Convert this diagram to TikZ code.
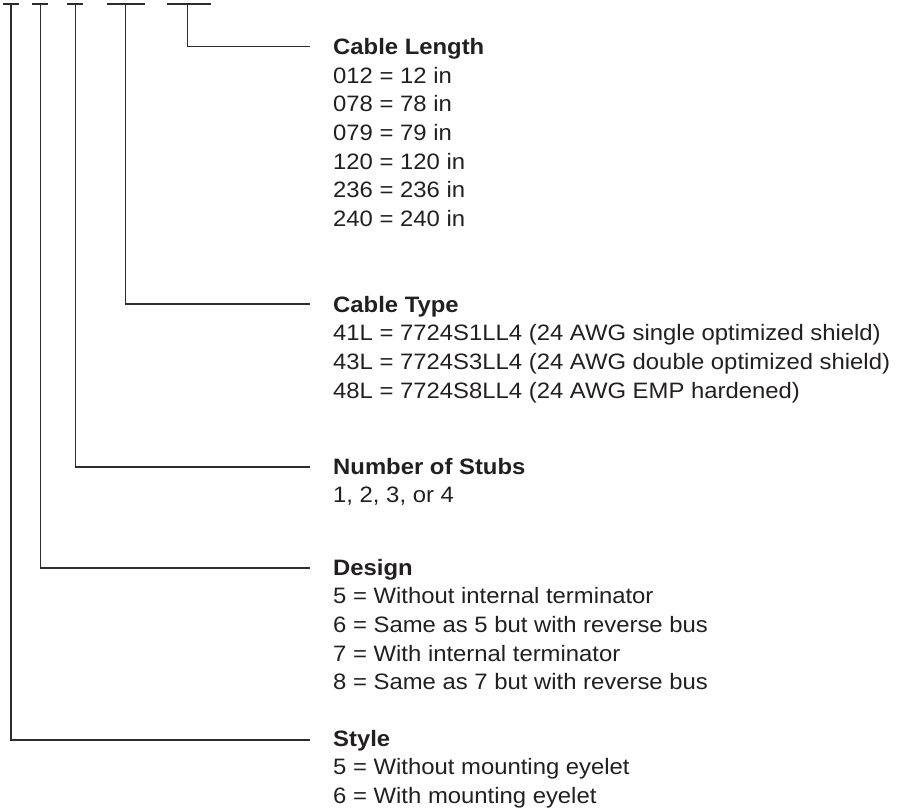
\documentclass[tikz,border=0pt]{standalone}
\usepackage{fontspec}
\setmainfont{Liberation Sans}[FakeStretch=1.07]
\definecolor{ink}{RGB}{35,31,32}
\definecolor{rule}{RGB}{45,45,45}
\newcommand{\lines}[1]{\begin{tabular}[t]{@{}l@{}}#1\end{tabular}}
\begin{document}
\begin{tikzpicture}[x=1pt,y=-1pt,
  leader/.style={draw=rule,line width=1.2pt},
  txt/.style={anchor=base west,inner sep=0pt,text=ink,
    font=\fontsize{22.3pt}{28.7pt}\selectfont},
  head/.style={txt,font=\fontsize{22.3pt}{28.7pt}\selectfont\bfseries}]
\useasboundingbox (0,0) rectangle (897,809);
% top bars
\coordinate (b1a) at (3.3,4); \coordinate (b1b) at (19.3,4); \coordinate (v1) at (11,4);
\coordinate (b2a) at (32.3,4); \coordinate (b2b) at (48.3,4); \coordinate (v2) at (40.3,4);
\coordinate (b3a) at (67.3,4); \coordinate (b3b) at (83.3,4); \coordinate (v3) at (75.3,4);
\coordinate (b4a) at (106.7,4); \coordinate (b4b) at (145.3,4); \coordinate (v4) at (125.3,4);
\coordinate (b5a) at (166.7,4); \coordinate (b5b) at (210.7,4); \coordinate (v5) at (187.3,4);
% line ends
\coordinate (e5) at (310,46.7);
\coordinate (e4) at (310,304);
\coordinate (e3) at (310,467);
\coordinate (e2) at (310,568);
\coordinate (e1) at (310,740);
\foreach \i in {1,...,5}{\draw[leader] (b\i a) -- (b\i b);}
\foreach \i in {1,...,5}{\draw[leader] (v\i) |- (e\i);}
% texts
\node[head] (lenH) at (333,54.3) {Cable Length};
\node[txt] (lenB) at (333,83) {\lines{012 = 12 in\\078 = 78 in\\079 = 79 in\\120 = 120 in\\236 = 236 in\\240 = 240 in}};
\node[head] (typH) at (333,312) {Cable Type};
\node[txt] (typB) at (333,340.7) {\lines{41L = 7724S1LL4 (24 AWG single optimized shield)\\43L = 7724S3LL4 (24 AWG double optimized shield)\\48L = 7724S8LL4 (24 AWG EMP hardened)}};
\node[head] (stbH) at (333,474) {Number of Stubs};
\node[txt] (stbB) at (333,502.7) {1, 2, 3, or 4};
\node[head] (desH) at (333,575) {Design};
\node[txt] (desB) at (333,603.7) {\lines{5 = Without internal terminator\\6 = Same as 5 but with reverse bus\\7 = With internal terminator\\8 = Same as 7 but with reverse bus}};
\node[head] (styH) at (333,746) {Style};
\node[txt] (styB) at (333,774.7) {\lines{5 = Without mounting eyelet\\6 = With mounting eyelet}};
\end{tikzpicture}
\end{document}
